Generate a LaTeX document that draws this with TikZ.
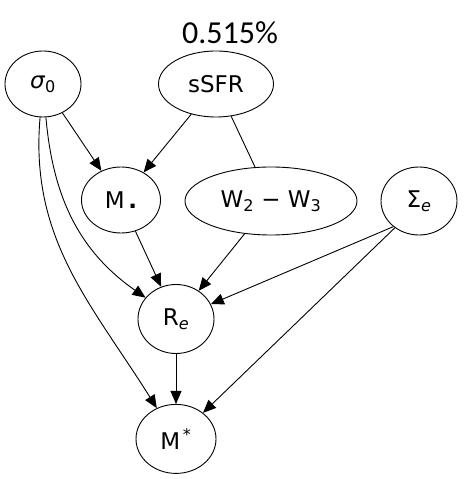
\documentclass[tikz,border=0pt]{standalone}
\usepackage{fontspec}
\setmainfont{DejaVu Sans}
\newfontfamily\titlefont{Carlito}
\usepackage{tikz}
\usetikzlibrary{shapes.geometric,arrows.meta,positioning}

\begin{document}
\begin{tikzpicture}[x=1pt, y=1pt, arrow/.style = {line width=0.9pt,-{Triangle[length=13pt,width=11pt]}}, link/.style = {line width=0.9pt}]
		\tikzset{var/.style={draw,ellipse,line width=0.9pt,inner sep=0pt,minimum height=66pt,font=\fontsize{23}{27}\selectfont}}
		\useasboundingbox (0,0) rectangle (463,479);

		% title
		\node[font=\titlefont\fontsize{32}{36}\selectfont] (title) at (230,446) {0.515\%};

		% top row
		\node[var, minimum width=76pt] (sigma) at (43,395) {\textit{σ}\textsubscript{0}};

		\node[var, minimum width=115pt] (ssfr) at (216,395) {sSFR};

		% middle row
		\node[var, minimum width=79pt] (mdot) at (121,279) {M\,{\bfseries .}};

		\node[var, minimum width=172pt, minimum height=68pt] (w23) at (271,278) {W\textsubscript{2} − W\textsubscript{3}};

		\node[var, minimum width=76pt, minimum height=68pt] (sige) at (419,278) {Σ\textsubscript{\textit{e}}};

		% lower nodes
		\node[var, minimum width=76pt, minimum height=69pt] (re) at (176,160) {R\textsubscript{\textit{e}}};

		\node[var, minimum width=80pt, minimum height=69pt, below=50pt of re] (mstar) {M\textsuperscript{\,*}};

		% Arrows
		\draw [arrow] (sigma) -- (mdot);
		\draw [arrow] (ssfr) -- (mdot);
		\draw [link] (ssfr) -- (w23);
		\draw [arrow] (sigma) to[out=-85,in=145] (re);
		\draw [arrow] (sigma) to[out=-95,in=122] (mstar);
		\draw [arrow] (mdot) -- (re);
		\draw [arrow] (w23) -- (re);
		\draw [arrow] (sige.225) -- (re);
		\draw [arrow] (sige.228) -- (mstar);
		\draw [arrow] (re) -- (mstar);

	\end{tikzpicture}
\end{document}
